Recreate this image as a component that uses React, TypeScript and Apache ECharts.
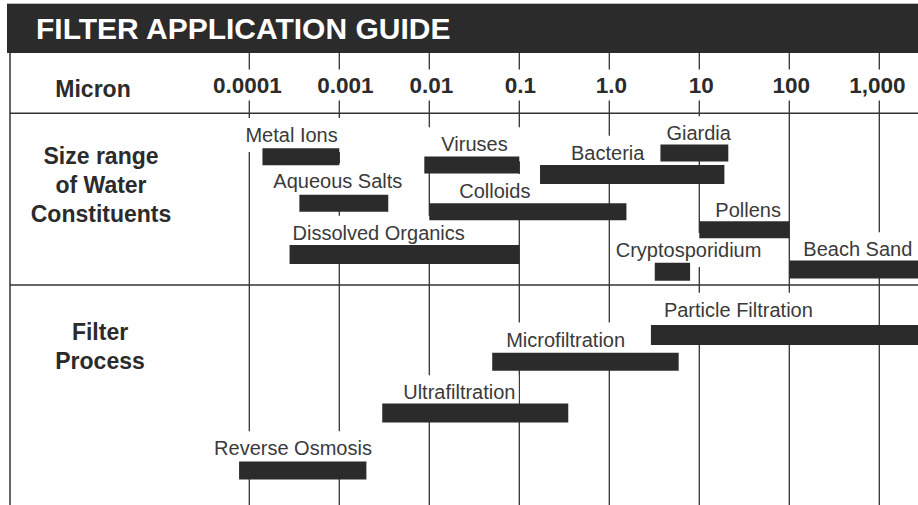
import React, { useEffect, useRef } from 'react';
import * as echarts from 'echarts';

// ---- data ----
const micronTicks = [0.0001, 0.001, 0.01, 0.1, 1, 10, 100, 1000];
const micronTickLabels = ['0.0001', '0.001', '0.01', '0.1', '1.0', '10', '100', '1,000'];

const constituentNames = ['Metal Ions', 'Viruses', 'Giardia', 'Bacteria', 'Aqueous Salts', 'Colloids', 'Pollens', 'Dissolved Organics', 'Cryptosporidium', 'Beach Sand'];
const constituentFrom = [0.00014, 0.0088, 3.7, 0.17, 0.00036, 0.01, 10, 0.00028, 3.2, 100];
const constituentTo = [0.001, 0.1, 21, 19, 0.0035, 1.55, 100, 0.1, 7.9, 3000];
const constituentRow = [10.47, 11.3, 10.1, 12.25, 15.13, 15.97, 17.77, 20.25, 21.97, 21.75];

const processNames = ['Particle Filtration', 'Microfiltration', 'Ultrafiltration', 'Reverse Osmosis'];
const processFrom = [2.9, 0.05, 0.003, 0.000077];
const processTo = [3000, 5.9, 0.35, 0.002];
const processRow = [28.3, 30.97, 36.1, 41.85];

const sectionTitles = ['Micron', 'Size range\nof Water\nConstituents', 'Filter\nProcess'];

// ---- layout / style (not data) ----
const FONT = "'Liberation Sans', Arial, Helvetica, sans-serif";
const TICK_LABEL_ROW = 3.3;
const tickLabelDx = [-2, 6, 2, 1, 2, 2, 2, -2];
const constituentLabelDx = [-17, 17, 6, 31, -26, 30, 16, 3, -39, 14];
const constituentLabelGap = [6, 5, 4, 5, 7, 5, 4, 5, 5.5, 4];
const constituentBarH = [17, 17, 17, 19, 17, 17, 17, 19, 18, 18];
const constituentPadExtra = [[0, 0], [11, 13], [0, 0], [0, 0], [0, 0], [0, 0], [0, 0], [0, 0], [0, 0], [0, 0]];
const processLabelDx = [13, 14, 21, -25];
const processLabelGap = [8, 6, 4, 6];
const processBarH = [20, 18, 19, 18];
const processPadExtra = [[0, 0], [0, 0], [0, 0], [0, 0]];
const LABEL_PAD_X = 3;

const names = constituentNames.concat(processNames);
const labelDx = constituentLabelDx.concat(processLabelDx);
const labelGap = constituentLabelGap.concat(processLabelGap);
const barH = constituentBarH.concat(processBarH);
const padExtra = constituentPadExtra.concat(processPadExtra);
const rangeData = constituentFrom
  .map((v, i) => [v, constituentTo[i], constituentRow[i]])
  .concat(processFrom.map((v, i) => [v, processTo[i], processRow[i]]));

const INK = '#2b2b2b';
const LINE = '#333333';

export default function App() {
  const ref = useRef<HTMLDivElement>(null);
  useEffect(() => {
    document.body.style.margin = '0';
    const chart = echarts.init(ref.current!, undefined, { renderer: 'svg' });
    const option: any = {
      animation: false,
      backgroundColor: '#ffffff',
      grid: { left: 159.3, right: 0, top: 52, bottom: 0 },
      xAxis: {
        type: 'log',
        logBase: 10,
        min: 1e-5,
        max: Math.pow(10, 3.43),
        show: false,
      },
      yAxis: { type: 'value', inverse: true, min: 0, max: 45.3, show: false },
      series: [
        {
          type: 'custom',
          z: 2,
          silent: true,
          data: micronTicks.map((t) => [t, 0]),
          encode: { x: 0, y: 1 },
          renderItem: (params: any, api: any) => {
            const cs = params.coordSys;
            const i = params.dataIndex;
            const p = api.coord([api.value(0), TICK_LABEL_ROW]);
            return {
              type: 'group',
              children: [
                {
                  type: 'line',
                  z2: 0,
                  shape: { x1: p[0], y1: cs.y, x2: p[0], y2: cs.y + cs.height },
                  style: { stroke: LINE, lineWidth: 1.3 },
                },
                {
                  type: 'text',
                  z2: 1,
                  style: {
                    text: micronTickLabels[i],
                    x: p[0] + tickLabelDx[i],
                    y: p[1],
                    align: 'center',
                    verticalAlign: 'middle',
                    font: `bold 22.5px ${FONT}`,
                    fill: INK,
                    backgroundColor: '#ffffff',
                    padding: [7, 3, 1, 3],
                  },
                },
              ],
            };
          },
        },
        {
          type: 'custom',
          z: 3,
          silent: true,
          data: rangeData,
          encode: { x: [0, 1], y: 2 },
          renderItem: (params: any, api: any) => {
            const i = params.dataIndex;
            const a = api.coord([api.value(0), api.value(2)]);
            const b = api.coord([api.value(1), api.value(2)]);
            const h = barH[i];
            const top = a[1] - h / 2;
            const padL = LABEL_PAD_X + padExtra[i][0];
            const padR = LABEL_PAD_X + padExtra[i][1];
            return {
              type: 'group',
              children: [
                {
                  type: 'text',
                  z2: 1,
                  style: {
                    text: names[i],
                    x: a[0] + labelDx[i] - padL,
                    y: top - labelGap[i] - 7.2,
                    align: 'left',
                    verticalAlign: 'middle',
                    font: `20px ${FONT}`,
                    fill: '#3a3a3a',
                    backgroundColor: '#ffffff',
                    padding: [9, padR, 5, padL],
                  },
                },
                {
                  type: 'rect',
                  z2: 2,
                  shape: { x: a[0], y: top, width: b[0] - a[0], height: h },
                  style: { fill: INK },
                },
              ],
            };
          },
        },
      ],
      graphic: [
        { type: 'rect', z: 20, silent: true, shape: { x: 7, y: 4, width: 911, height: 49 }, style: { fill: INK } },
        { type: 'line', z: 20, silent: true, shape: { x1: 7, y1: 3.5, x2: 918, y2: 3.5 }, style: { stroke: '#bbbbbb', lineWidth: 1 } },
        {
          type: 'text', z: 21, silent: true, x: 36, y: 28.5,
          style: { text: 'FILTER APPLICATION GUIDE', font: `bold 30px ${FONT}`, fill: '#ffffff', align: 'left', verticalAlign: 'middle' },
        },
        { type: 'line', z: 20, silent: true, shape: { x1: 10, y1: 53, x2: 10, y2: 505 }, style: { stroke: LINE, lineWidth: 1.5 } },
        { type: 'line', z: 20, silent: true, shape: { x1: 10, y1: 113.3, x2: 918, y2: 113.3 }, style: { stroke: LINE, lineWidth: 1.5 } },
        { type: 'line', z: 20, silent: true, shape: { x1: 10, y1: 285, x2: 918, y2: 285 }, style: { stroke: LINE, lineWidth: 1.5 } },
        {
          type: 'text', z: 21, silent: true, x: 93, y: 88.5,
          style: { text: sectionTitles[0], font: `bold 23px ${FONT}`, fill: INK, align: 'center', verticalAlign: 'middle' },
        },
        {
          type: 'text', z: 21, silent: true, x: 101, y: 184.5,
          style: { text: sectionTitles[1], font: `bold 23px ${FONT}`, lineHeight: 29, fill: INK, align: 'center', verticalAlign: 'middle' },
        },
        {
          type: 'text', z: 21, silent: true, x: 100, y: 346,
          style: { text: sectionTitles[2], font: `bold 23px ${FONT}`, lineHeight: 29, fill: INK, align: 'center', verticalAlign: 'middle' },
        },
      ],
    };
    chart.setOption(option);
    return () => chart.dispose();
  }, []);
  return <div ref={ref} style={{ position: 'absolute', left: 0, top: 0, width: 918, height: 505 }} />;
}
